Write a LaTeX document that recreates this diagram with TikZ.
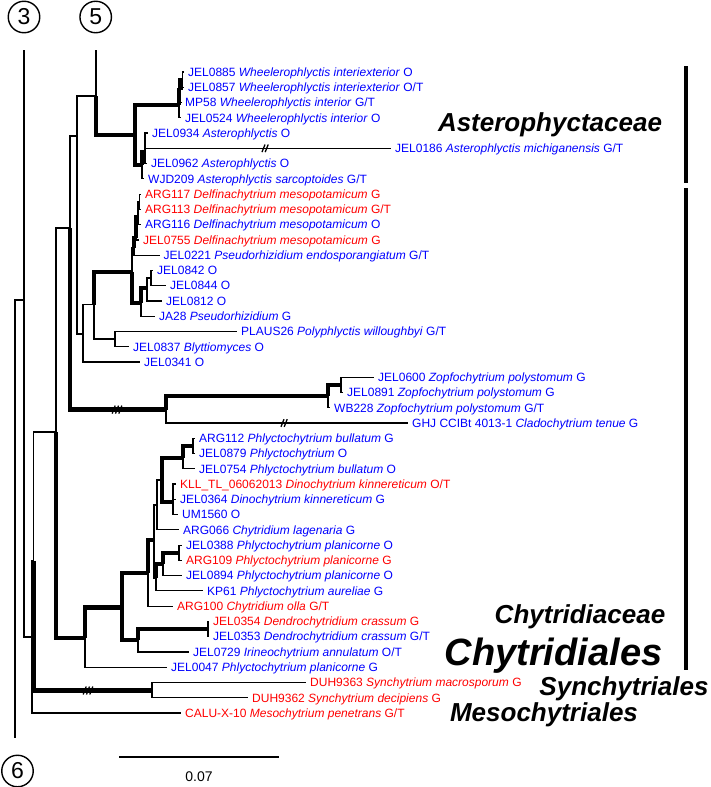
\documentclass[tikz,border=0pt]{standalone}
\usepackage{fontspec}
\setmainfont{Liberation Sans}
\definecolor{tb}{RGB}{0,0,255}
\definecolor{tr}{RGB}{255,0,0}
\newcommand{\leaf}[5]{\coordinate (#1) at (#2,#3);\node[lb,text=#4] (#1t) at ([shift={(4,4.3)}]#1) {#5};}
\newcommand{\hashtwo}[1]{\draw[hs] ([shift={(-3,3.8)}]#1) -- ++(3,-7.6); \draw[hs] ([shift={(0.2,3.8)}]#1) -- ++(3,-7.6);}
\newcommand{\hashthree}[1]{\draw[hs] ([shift={(-4.8,4)}]#1) -- ++(3,-8); \draw[hs] ([shift={(-1.5,4)}]#1) -- ++(3,-8); \draw[hs] ([shift={(1.8,4)}]#1) -- ++(3,-8);}
\begin{document}
\begin{tikzpicture}[x=1pt,y=-1pt,
  br/.style={line width=1.2pt},
  tk/.style={line width=4.3pt},
  hs/.style={line width=1.3pt},
  lb/.style={anchor=base west,inner sep=0pt,font=\fontsize{12}{14}\selectfont},
  big/.style={anchor=base,inner sep=0pt,font=\fontsize{26}{28}\selectfont\bfseries\itshape},
  circ/.style={circle,draw,line width=1.4pt,minimum size=31.5pt,inner sep=0pt,font=\fontsize{23}{23}\selectfont},
  bar/.style={line width=4.5pt}]
\fill[white] (0,0) rectangle (710,787);
\useasboundingbox (0,0) rectangle (710,787);

% internal nodes
\coordinate (R) at (15,519);
\coordinate (c6) at (15,738);
\coordinate (n24) at (24,300);
\coordinate (c3) at (24,50);
\coordinate (nB) at (32,637);
\coordinate (nA) at (33.5,561);
\coordinate (nC) at (56,432);
\coordinate (nSyn) at (152,690.5);
\coordinate (n70) at (70,228);
\coordinate (nChy) at (85,638);
\coordinate (n77) at (77,136);
\coordinate (nZopf) at (166,409.6);
\coordinate (n96) at (96,96);
\coordinate (c5) at (96,50);
\coordinate (n83) at (83,334);
\coordinate (nAst) at (135,135);
\coordinate (nWh) at (179,105);
\coordinate (nWh1) at (180.5,90);
\coordinate (nWh2) at (182.5,80);
\coordinate (nAs) at (142,165);
\coordinate (nAs1) at (145,152);
\coordinate (n94) at (94,304.5);
\coordinate (nPl) at (115,339);
\coordinate (nDel) at (132,272);
\coordinate (nDe1) at (134,248);
\coordinate (nDe2) at (136,238);
\coordinate (nDe3) at (138,217);
\coordinate (nDe4) at (139.5,202);
\coordinate (nPs) at (141,303);
\coordinate (nPs1) at (147,288);
\coordinate (nPs2) at (151,278);
\coordinate (nZ1) at (328,396);
\coordinate (nZ2) at (341,384.8);
\coordinate (nCh1) at (122,607.6);
\coordinate (nDen) at (138,640);
\coordinate (nDen1) at (208,629);
\coordinate (nCh2) at (148,573);
\coordinate (nCh3) at (154,540);
\coordinate (nCh4) at (157,505);
\coordinate (nCh5) at (156,578);
\coordinate (nCh6) at (162,480);
\coordinate (nPb) at (183,458);
\coordinate (nPb1) at (193,446);
\coordinate (nDin) at (173,502);
\coordinate (nPp) at (163,564);
\coordinate (nPp1) at (179,553);

% leaves
\leaf{t1}{184}{72.0}{tb}{JEL0885 \textit{Wheelerophlyctis interiexterior} O}
\leaf{t2}{184}{87.3}{tb}{JEL0857 \textit{Wheelerophlyctis interiexterior} O/T}
\leaf{t3}{181}{102.5}{tb}{MP58 \textit{Wheelerophlyctis interior} G/T}
\leaf{t4}{181}{117.8}{tb}{JEL0524 \textit{Wheelerophlyctis interior} O}
\leaf{t5}{148}{133.0}{tb}{JEL0934 \textit{Asterophlyctis} O}
\leaf{t6}{391}{148.3}{tb}{JEL0186 \textit{Asterophlyctis michiganensis} G/T}
\leaf{t7}{147}{163.6}{tb}{JEL0962 \textit{Asterophlyctis} O}
\leaf{t8}{144}{178.8}{tb}{WJD209 \textit{Asterophlyctis sarcoptoides} G/T}
\leaf{t9}{141}{194.1}{tr}{ARG117 \textit{Delfinachytrium mesopotamicum} G}
\leaf{t10}{141}{209.3}{tr}{ARG113 \textit{Delfinachytrium mesopotamicum} G/T}
\leaf{t11}{141}{224.6}{tb}{ARG116 \textit{Delfinachytrium mesopotamicum} O}
\leaf{t12}{139}{239.9}{tr}{JEL0755 \textit{Delfinachytrium mesopotamicum} G}
\leaf{t13}{159.5}{255.1}{tb}{JEL0221 \textit{Pseudorhizidium endosporangiatum} G/T}
\leaf{t14}{153}{270.4}{tb}{JEL0842 O}
\leaf{t15}{166}{285.6}{tb}{JEL0844 O}
\leaf{t16}{162}{300.9}{tb}{JEL0812 O}
\leaf{t17}{155}{316.2}{tb}{JA28 \textit{Pseudorhizidium} G}
\leaf{t18}{237}{331.4}{tb}{PLAUS26 \textit{Polyphlyctis willoughbyi} G/T}
\leaf{t19}{129}{346.7}{tb}{JEL0837 \textit{Blyttiomyces} O}
\leaf{t20}{140}{361.9}{tb}{JEL0341 O}
\leaf{t21}{374}{377.2}{tb}{JEL0600 \textit{Zopfochytrium polystomum} G}
\leaf{t22}{343}{392.5}{tb}{JEL0891 \textit{Zopfochytrium polystomum} G}
\leaf{t23}{330}{407.7}{tb}{WB228 \textit{Zopfochytrium polystomum} G/T}
\leaf{t24}{408}{423.0}{tb}{GHJ CCIBt 4013-1 \textit{Cladochytrium tenue} G}
\leaf{t25}{195}{438.2}{tb}{ARG112 \textit{Phlyctochytrium bullatum} G}
\leaf{t26}{195}{453.5}{tb}{JEL0879 \textit{Phlyctochytrium} O}
\leaf{t27}{195}{468.8}{tb}{JEL0754 \textit{Phlyctochytrium bullatum} O}
\leaf{t28}{176}{484.0}{tr}{KLL\_TL\_06062013 \textit{Dinochytrium kinnereticum} O/T}
\leaf{t29}{176}{499.3}{tb}{JEL0364 \textit{Dinochytrium kinnereticum} G}
\leaf{t30}{178}{514.5}{tb}{UM1560 O}
\leaf{t31}{179}{529.8}{tb}{ARG066 \textit{Chytridium lagenaria} G}
\leaf{t32}{182}{545.1}{tb}{JEL0388 \textit{Phlyctochytrium planicorne} O}
\leaf{t33}{182}{560.3}{tr}{ARG109 \textit{Phlyctochytrium planicorne} G}
\leaf{t34}{182}{575.6}{tb}{JEL0894 \textit{Phlyctochytrium planicorne} O}
\leaf{t35}{203}{590.8}{tb}{KP61 \textit{Phlyctochytrium aureliae} G}
\leaf{t36}{173}{606.1}{tr}{ARG100 \textit{Chytridium olla} G/T}
\leaf{t37}{209}{621.4}{tr}{JEL0354 \textit{Dendrochytridium crassum} G}
\leaf{t38}{209}{636.6}{tb}{JEL0353 \textit{Dendrochytridium crassum} G/T}
\leaf{t39}{189}{651.9}{tb}{JEL0729 \textit{Irineochytrium annulatum} O/T}
\leaf{t40}{167}{667.1}{tb}{JEL0047 \textit{Phlyctochytrium planicorne} G}
\leaf{t41}{306}{682.4}{tr}{DUH9363 \textit{Synchytrium macrosporum} G}
\leaf{t42}{248}{697.7}{tr}{DUH9362 \textit{Synchytrium decipiens} G}
\leaf{t43}{181}{712.9}{tr}{CALU-X-10 \textit{Mesochytrium penetrans} G/T}

% root area
\draw[br] (R) |- (n24);
\draw[br] (R) -- (c6);
\draw[br] (n24) |- (c3);
\draw[br] (n24) |- (nB);
\draw[br] (nB) |- (nA);
\draw[br] (nB) |- (t43);
\draw[br] (nA) |- (nC);
\draw[tk] (nA) |- (nSyn);
\draw[br] (nC) |- (n70);
\draw[tk] (nC) |- (nChy);
\draw[br] (n70) |- (n77);
\draw[tk] (n70) |- (nZopf);
\draw[br] (n77) |- (n96);
\draw[br] (n77) |- (n83);
\draw[br] (n96) |- (c5);
\draw[tk] (n96) |- (nAst);
% Asterophyctaceae
\draw[tk] (nAst) |- (nWh);
\draw[tk] (nAst) |- (nAs);
\draw[tk] (nWh) |- (nWh1);
\draw[br] (nWh) |- (t4);
\draw[tk] (nWh1) |- (nWh2);
\draw[br] (nWh1) |- (t3);
\draw[br] (nWh2) |- (t1);
\draw[br] (nWh2) |- (t2);
\draw[tk] (nAs) |- (nAs1);
\draw[br] (nAs) |- (t8);
\draw[br] (nAs1) |- (t5);
\draw[br] (nAs1) |- (t6);
\draw[br] (nAs1) |- (t7);
% Delfinachytrium / Pseudorhizidium
\draw[br] (n83) |- (n94);
\draw[br] (n83) |- (t20);
\draw[tk] (n94) |- (nDel);
\draw[br] (n94) |- (nPl);
\draw[br] (nPl) |- (t18);
\draw[br] (nPl) |- (t19);
\draw[br] (nDel) |- (nDe1);
\draw[tk] (nDel) |- (nPs);
\draw[tk] (nDe1) |- (nDe2);
\draw[br] (nDe1) |- (t13);
\draw[tk] (nDe2) |- (nDe3);
\draw[br] (nDe2) |- (t12);
\draw[br] (nDe3) |- (nDe4);
\draw[br] (nDe3) |- (t11);
\draw[br] (nDe4) |- (t9);
\draw[br] (nDe4) |- (t10);
\draw[tk] (nPs) |- (nPs1);
\draw[br] (nPs) |- (t17);
\draw[br] (nPs1) |- (nPs2);
\draw[br] (nPs1) |- (t16);
\draw[br] (nPs2) |- (t14);
\draw[br] (nPs2) |- (t15);
% Zopfochytrium
\draw[br] (nZopf) |- (t24);
\draw[tk] (nZopf) |- (nZ1);
\draw[tk] (nZ1) |- (nZ2);
\draw[br] (nZ1) |- (t23);
\draw[br] (nZ2) |- (t21);
\draw[br] (nZ2) |- (t22);
% Chytridiaceae
\draw[tk] (nChy) |- (nCh1);
\draw[br] (nChy) |- (t40);
\draw[tk] (nCh1) |- (nCh2);
\draw[tk] (nCh1) |- (nDen);
\draw[tk] (nDen) |- (nDen1);
\draw[br] (nDen) |- (t39);
\draw[br] (nDen1) |- (t37);
\draw[br] (nDen1) |- (t38);
\draw[tk] (nCh2) |- (nCh3);
\draw[br] (nCh2) |- (t36);
\draw[br] (nCh3) |- (nCh4);
\draw[br] (nCh3) |- (nCh5);
\draw[br] (nCh4) |- (nCh6);
\draw[br] (nCh4) |- (t31);
\draw[tk] (nCh6) |- (nPb);
\draw[tk] (nCh6) |- (nDin);
\draw[tk] (nPb) |- (nPb1);
\draw[br] (nPb) |- (t27);
\draw[br] (nPb1) |- (t25);
\draw[br] (nPb1) |- (t26);
\draw[br] (nDin) |- (t28);
\draw[br] (nDin) |- (t29);
\draw[br] (nDin) |- (t30);
\draw[tk] (nCh5) |- (nPp);
\draw[br] (nCh5) |- (t35);
\draw[tk] (nPp) |- (nPp1);
\draw[br] (nPp) |- (t34);
\draw[br] (nPp1) |- (t32);
\draw[br] (nPp1) |- (t33);
% Synchytriales
\draw[br] (nSyn) |- (t41);
\draw[br] (nSyn) |- (t42);

% break marks
\coordinate (hA) at (265,148.3);
\coordinate (hB) at (117,409.6);
\coordinate (hC) at (284,423);
\coordinate (hD) at (88,690.5);
\hashtwo{hA}
\hashthree{hB}
\hashtwo{hC}
\hashthree{hD}

% clade labels
\node[big] (lAst) at (550,131) {Asterophyctaceae};
\node[big] (lChy) at (580,623) {Chytridiaceae};
\node[big,font=\fontsize{38}{40}\selectfont\bfseries\itshape] (lChs) at (553.5,665) {Chytridiales};
\node[big] (lSyn) at (624,695) {Synchytriales};
\node[big] (lMes) at (544,721) {Mesochytriales};

% bars
\coordinate (b1a) at (686,66);
\coordinate (b1b) at (686,183);
\coordinate (b2a) at (686,188);
\coordinate (b2b) at (686,670);
\draw[bar] (b1a) -- (b1b);
\draw[bar] (b2a) -- (b2b);

% circled markers
\node[circ] (m3) at (24,17) {3};
\node[circ] (m5) at (95.7,17) {5};
\node[circ] (m6) at (17.5,771) {6};

% scale bar
\coordinate (sb1) at (119,757);
\coordinate (sb2) at (279,757);
\draw[br] (sb1) -- (sb2);
\node[anchor=base,inner sep=0pt,font=\fontsize{14}{14}\selectfont] (sbt) at (199,781) {0.07};
\end{tikzpicture}
\end{document}
